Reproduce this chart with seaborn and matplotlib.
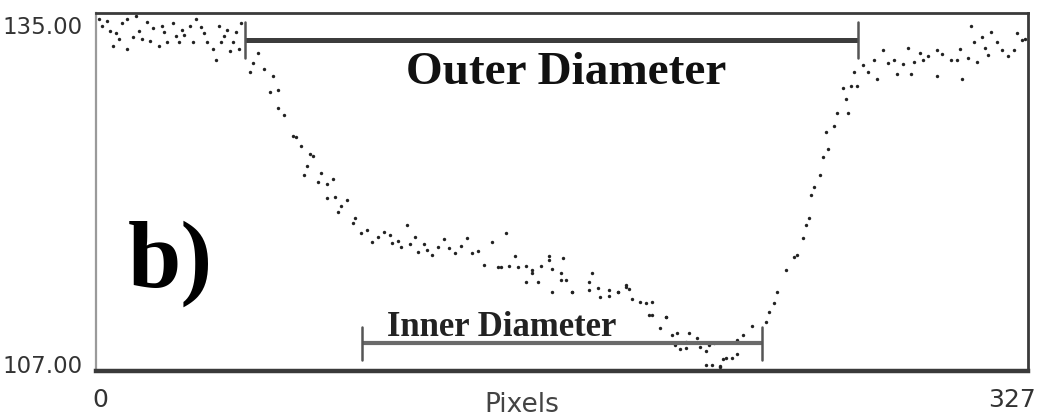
import matplotlib
matplotlib.use("Agg")
import matplotlib.pyplot as plt
from matplotlib.transforms import ScaledTranslation, blended_transform_factory
import numpy as np
import pandas as pd
import seaborn as sns

# Intensity profile across the tube section (pixel index vs grey level)
pixel = [
    1, 4, 7, 8, 6, 11, 11, 14, 13, 16, 18, 20, 22, 24, 25, 27, 30, 29, 31, 34,
    35, 37, 39, 42, 43, 44, 46, 47, 48, 50, 51, 2, 5, 9, 15, 19, 23, 28, 33, 38,
    41, 45, 49,
    57, 55, 54, 59, 62, 61, 64, 64, 66, 69, 70, 76, 74, 73, 78, 81, 83, 81, 84,
    88, 85, 90, 93, 97, 101, 104, 107, 109, 113, 116, 118, 124, 130, 132, 136,
    139, 141, 72, 75, 79, 86, 91, 95, 99, 103, 106, 110, 112, 115, 120, 122,
    126, 128, 134,
    142, 148, 153, 159, 163, 167, 173, 177, 183, 188, 193, 195, 200, 204, 207,
    144, 147, 145, 151, 153, 156, 159, 160, 163, 164, 151, 155, 160, 165, 167,
    173, 174, 176, 180, 183, 186, 187,
    180, 186, 191, 195, 194, 200, 202, 205, 208, 212, 214, 214, 219, 221, 225,
    227, 230, 235, 236, 238, 239, 242, 246, 198, 203, 207, 211, 215, 217, 220,
    223, 225, 216, 219,
    245, 248, 249, 250, 251, 252, 254, 255, 257, 256, 259, 260, 264,
    262, 263, 265, 267, 266, 269, 273, 274, 276, 280, 281, 286, 285, 287, 289,
    292, 295, 295, 300, 302, 303, 304, 307, 308, 309, 311, 313, 314, 316, 318,
    322, 323, 325, 283, 290, 297, 306, 312, 320, 326, 278, 271,
]
intensity = [
    134.5, 134.4, 133.4, 133.0, 132.4, 132.2, 134.5, 134.8, 133.1, 133.0, 134.3,
    133.8, 132.4, 133.5, 132.7, 134.2, 133.7, 132.7, 133.3, 132.7, 134.5, 133.9,
    132.7, 131.3, 134.0, 132.7, 133.7, 132.0, 132.7, 132.2, 134.2, 134.0, 133.6,
    134.2, 133.6, 132.8, 134.0, 133.2, 134.0, 133.4, 132.2, 133.2, 133.5,
    131.9, 131.1, 130.4, 130.6, 130.1, 128.8, 129.0, 127.6, 127.0, 125.4, 125.3,
    123.8, 123.0, 122.3, 121.8, 121.6, 122.0, 120.5, 120.6, 120.4, 119.4, 118.6,
    117.8, 117.1, 117.9, 117.0, 116.7, 118.4, 116.3, 116.5, 116.1, 116.6, 117.4,
    116.2, 115.3, 117.1, 115.1, 124.6, 124.0, 122.5, 119.9, 119.0, 118.0, 117.5,
    117.6, 117.2, 116.9, 117.5, 116.9, 116.7, 117.3, 116.2, 116.8, 116.4,
    115.1, 115.1, 114.9, 115.7, 114.1, 113.2, 113.3, 112.8, 113.2, 112.6, 112.3,
    111.4, 111.2, 110.0, 109.3,
    117.8, 116.0, 115.2, 115.2, 114.7, 115.2, 116.0, 115.0, 114.7, 115.8, 114.0,
    114.0, 113.2, 114.1, 113.2, 114.0, 114.7, 113.5, 112.9, 113.2, 113.7, 113.4,
    113.3, 113.6, 112.4, 112.4, 111.4, 111.2, 109.8, 108.7, 110.0, 108.9, 108.6,
    107.5, 107.3, 108.0, 109.4, 109.8, 110.5, 110.8, 111.6, 112.3, 113.2, 114.9,
    116.1, 110.4, 109.0, 108.8, 109.6, 109.0, 109.2, 107.9, 108.0, 108.3, 107.5,
    107.4,
    115.9, 117.4, 118.4, 119.0, 120.8, 121.4, 122.3, 123.7, 124.4, 125.7, 126.2,
    127.2, 127.2,
    129.1, 128.3, 129.3, 129.3, 130.4, 130.9, 131.3, 129.8, 132.1, 131.3, 130.2,
    130.2, 132.3, 131.2, 131.9, 131.6, 132.1, 130.1, 131.3, 131.3, 132.2, 129.8,
    134.0, 132.7, 131.2, 133.1, 131.7, 133.5, 132.7, 132.1, 132.1, 133.4, 132.9,
    131.0, 131.3, 131.8, 131.5, 132.3, 131.6, 133.0, 131.1, 130.4,
]

# Measured spans (pixel positions)
outer_span = [52.3, 267.4]
inner_span = [93.3, 233.7]

x_range = [0, 327]
y_range = [107.0, 135.0]

df = pd.DataFrame({"Pixels": pixel, "Intensity": intensity})

sns.set_theme(style="white")
plt.rcParams["font.family"] = ["DejaVu Sans"]

fig = plt.figure(figsize=(10.43, 4.20), dpi=100)
ax = fig.add_axes([96 / 1043, 1 - 371 / 420, 932 / 1043, 358 / 420])

sns.scatterplot(data=df, x="Pixels", y="Intensity", ax=ax, s=6, marker="o",
                color="#222222", linewidth=0, legend=False)

ax.set_xlim(*x_range)
ax.set_ylim(*y_range)

# Frame
for side, (col, lw) in {"left": ("#9a9a9a", 1.6), "top": ("#3a3a3a", 2.0),
                         "right": ("#3a3a3a", 2.0),
                         "bottom": ("#3a3a3a", 3.2)}.items():
    ax.spines[side].set_visible(True)
    ax.spines[side].set_color(col)
    ax.spines[side].set_linewidth(lw)

# Ticks: only the range limits
ax.set_xticks(x_range)
ax.set_xticklabels([f"{v:d}" for v in x_range])
ax.set_yticks(y_range)
ax.set_yticklabels([f"{v:.2f}" for v in y_range])
ax.tick_params(axis="both", length=0, labelcolor="#333333")
ax.tick_params(axis="x", labelsize=18, pad=12)
ax.tick_params(axis="y", labelsize=16.5, pad=9.5)

dpi_tr = fig.dpi_scale_trans
xl = ax.get_xticklabels()
xl[0].set_transform(xl[0].get_transform() + ScaledTranslation(4 / 100, 0, dpi_tr))
xl[1].set_transform(xl[1].get_transform() + ScaledTranslation(-16 / 100, 0, dpi_tr))
yl = ax.get_yticklabels()
yl[0].set_transform(yl[0].get_transform() + ScaledTranslation(0, 7 / 100, dpi_tr))
yl[1].set_transform(yl[1].get_transform() + ScaledTranslation(0, -12 / 100, dpi_tr))

ax.set_ylabel("")
ax.set_xlabel("Pixels", fontsize=19, color="#444444")
ax.xaxis.set_label_coords(0.457, -0.06)
ax.xaxis.label.set_va("top")

# Span markers: x in data, y in axes fraction
btr = blended_transform_factory(ax.transData, ax.transAxes)
ax.plot(outer_span, [0.925, 0.925], transform=btr, color="#3c3c3c", lw=3.6,
        solid_capstyle="butt", clip_on=False)
for xv in outer_span:
    ax.plot([xv, xv], [0.874, 0.975], transform=btr, color="#555555", lw=1.8,
            clip_on=False)

ax.plot(inner_span, [0.078, 0.078], transform=btr, color="#6a6a6a", lw=3.0,
        solid_capstyle="butt")
for xv in inner_span:
    ax.plot([xv, xv], [0.031, 0.123], transform=btr, color="#555555", lw=1.8)

serif = ["Liberation Serif", "DejaVu Serif"]
ax.text(0.505, 0.802, "Outer Diameter", transform=ax.transAxes, ha="center",
        va="baseline", fontsize=34, fontweight="bold", family=serif,
        color="#111111")
ax.text(0.435, 0.098, "Inner Diameter", transform=ax.transAxes, ha="center",
        va="baseline", fontsize=25, fontweight="bold", family=serif,
        color="#222222")
ax.text(0.034, 0.235, "b)", transform=ax.transAxes, ha="left",
        va="baseline", fontsize=69, fontweight="bold", family=serif,
        color="#000000")

fig.savefig("out.png", dpi=100)
